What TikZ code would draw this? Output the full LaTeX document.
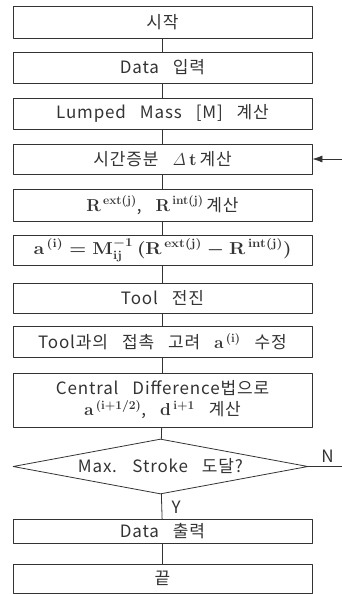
\documentclass[tikz,border=0pt]{standalone}
\usepackage{amsmath}
\usepackage{graphicx}
\usepackage[no-math]{fontspec}
\setmainfont{Noto Sans CJK KR}[LetterSpace=5,WordSpace=3]
\usetikzlibrary{arrows.meta,shapes.geometric}
\definecolor{lngray}{rgb}{0.2,0.2,0.2}

\begin{document}
\begin{tikzpicture}[line cap=round,line join=round,x=1pt,y=-1pt,
	box/.style={draw=lngray,line width=0.8pt,minimum width=299pt,inner sep=0pt,align=center,text=lngray,font=\fontsize{17}{21}\selectfont},
	cond/.style={draw=lngray,diamond,line width=0.8pt,aspect=5.4,minimum width=295pt,minimum height=55pt,inner sep=0pt,text=lngray,font=\fontsize{17}{21}\selectfont},
	link/.style={draw=lngray,line width=0.8pt}]
		\useasboundingbox (0,0) rectangle (342,594);
		\clip (0,0) rectangle (342,594);
		\node[box,minimum height=32pt] (start) at (162.5,22) {시작};
		\node[box,minimum height=31pt] (input) at (162.5,67.5) {Data 입력};
		\node[box,minimum height=31pt] (mass) at (162.5,113.5) {Lumped Mass [M] 계산};
		\node[box,minimum height=30pt] (dt) at (162.5,159) {시간증분 $\mathit{\Delta}\,\mathbf{t}$\,계산};
		\node[box,minimum height=32pt] (force) at (162.5,205) {{\boldmath$\mathbf{R}^{\,\mathbf{ext(j)}}$, $\mathbf{R}^{\,\mathbf{int(j)}}$}\,계산};
		\node[box,minimum height=30pt] (accel) at (162.5,250) {\scalebox{1.12}[1]{\boldmath$\mathbf{a}^{\,(\mathbf{i})}=\mathbf{M}_{\mathbf{ij}}^{-1}\,(\mathbf{R}^{\,\mathbf{ext(j)}}-\mathbf{R}^{\,\mathbf{int(j)}})$}};
		\node[box,minimum height=30pt] (tool) at (162.5,298) {Tool 전진};
		\node[box,minimum height=31pt] (contact) at (162.5,341.5) {Tool과의 접촉 고려 {\boldmath$\mathbf{a}^{\,(\mathbf{i})}$} 수정};
		\node[box,minimum height=54pt] (central) at (162.5,400) {Central Difference법으로\\{\boldmath$\mathbf{a}^{\,(\mathbf{i+1/2})}$, $\mathbf{d}^{\,\mathbf{i+1}}$} 계산};
		\node[cond] (stroke) at (160.5,466.5) {Max. Stroke 도달?};
		\node[box,minimum height=24pt] (output) at (162.5,531) {Data 출력};
		\node[box,minimum height=29pt] (finish) at (162.5,578.5) {끝};
		\coordinate (loop) at (356,466.5);
		\draw[link] (start) -- (input);
		\draw[link] (input) -- (mass);
		\draw[link] (mass) -- (dt);
		\draw[link] (dt) -- (force);
		\draw[link] (force) -- (accel);
		\draw[link] (accel) -- (tool);
		\draw[link] (tool) -- (contact);
		\draw[link] (contact) -- (central);
		\draw[link] (central) -- (stroke);
		\draw[link] (stroke) -- node[pos=0.55,right=6pt,text=lngray,font=\fontsize{17}{21}\selectfont] {Y} (output);
		\draw[link] (output) -- (finish);
		\draw[link,-{Latex[length=10pt,width=7pt]}] (stroke.east) -- node[pos=0.4,above,text=lngray,font=\fontsize{17}{21}\selectfont] {N} (loop) |- (dt.east);
\end{tikzpicture}
\end{document}
